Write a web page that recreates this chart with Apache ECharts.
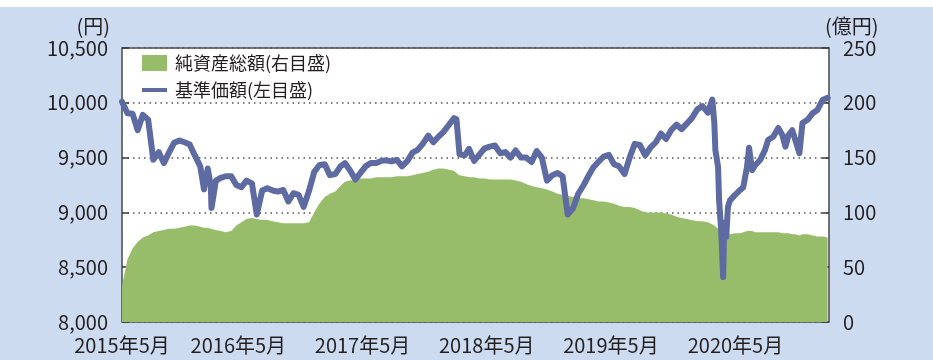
<!DOCTYPE html>
<html>
<head>
<meta charset="utf-8">
<script src="https://cdn.jsdelivr.net/npm/echarts@6/dist/echarts.min.js"></script>
<style>
  html, body { margin: 0; padding: 0; }
  #chart { width: 933px; height: 360px; background: linear-gradient(#ffffff 0 7px, #ccdbf0 7px); }
</style>
</head>
<body>
<div id="chart"></div>
<script>
// Observation dates (shared by both series)
const dates = [
  '2015-05-25','2015-06-10','2015-06-25','2015-07-10','2015-07-25','2015-08-10','2015-08-25','2015-09-10','2015-09-25','2015-10-10','2015-10-25','2015-11-10','2015-11-25','2015-12-10','2015-12-25',
  '2016-01-10','2016-01-21','2016-02-01','2016-02-10','2016-02-12','2016-02-25','2016-03-10','2016-03-25','2016-04-10','2016-04-25','2016-05-10','2016-05-25','2016-06-10','2016-06-24','2016-07-10','2016-07-25','2016-08-10','2016-08-25','2016-09-10','2016-09-25','2016-10-10','2016-10-25','2016-11-09','2016-11-25','2016-12-10','2016-12-25',
  '2017-01-10','2017-01-25','2017-02-10','2017-02-25','2017-03-10','2017-03-25','2017-04-10','2017-04-25','2017-05-10','2017-05-25','2017-06-10','2017-06-25','2017-07-10','2017-07-25','2017-08-10','2017-08-25','2017-09-10','2017-09-25','2017-10-10','2017-10-25','2017-11-10','2017-11-25','2017-12-10','2017-12-25',
  '2018-01-10','2018-01-25','2018-02-01','2018-02-10','2018-02-25','2018-03-10','2018-03-25','2018-04-10','2018-04-25','2018-05-10','2018-05-25','2018-06-10','2018-06-25','2018-07-10','2018-07-25','2018-08-10','2018-08-25','2018-09-10','2018-09-25','2018-10-10','2018-10-25','2018-11-10','2018-11-25','2018-12-10','2018-12-25',
  '2019-01-10','2019-01-25','2019-02-10','2019-02-25','2019-03-10','2019-03-25','2019-04-10','2019-04-25','2019-05-10','2019-05-25','2019-06-10','2019-06-25','2019-07-10','2019-07-25','2019-08-10','2019-08-25','2019-09-10','2019-09-25','2019-10-10','2019-10-25','2019-11-10','2019-11-25','2019-12-10','2019-12-25',
  '2020-01-10','2020-01-25','2020-02-10','2020-02-23','2020-02-29','2020-03-03','2020-03-11','2020-03-14','2020-03-20','2020-03-26','2020-03-29','2020-04-04','2020-04-09','2020-04-15','2020-04-30','2020-05-15','2020-05-24','2020-06-04','2020-06-10','2020-06-19','2020-06-28','2020-07-13','2020-07-27','2020-08-05','2020-08-20','2020-09-04','2020-09-16','2020-09-25','2020-10-04','2020-10-15','2020-10-24','2020-11-05','2020-11-14','2020-11-29','2020-12-14','2020-12-28',
  '2021-01-12','2021-01-27'
];

// 基準価額 (円)
const navValues = [
  10010,9905,9900,9750,9890,9845,9480,9550,9450,9545,9635,9655,9640,9620,9520,
  9420,9210,9400,9240,9040,9290,9315,9330,9330,9250,9230,9290,9265,8980,9200,9220,9200,9190,9205,9100,9175,9160,9050,9200,9370,9430,
  9440,9340,9350,9420,9450,9385,9300,9360,9420,9450,9450,9470,9475,9465,9480,9420,9470,9545,9570,9625,9700,9640,9690,9735,
  9800,9860,9850,9530,9520,9580,9470,9530,9585,9600,9610,9540,9550,9500,9565,9500,9500,9460,9560,9500,9290,9340,9360,9330,8980,
  9040,9170,9250,9340,9410,9460,9510,9525,9440,9420,9350,9500,9625,9615,9520,9590,9640,9720,9670,9750,9800,9760,9810,9860,
  9940,9970,9910,10030,9815,9570,9415,9110,8840,8410,8905,8775,9050,9110,9160,9205,9230,9415,9590,9385,9430,9480,9570,9660,9690,9770,9705,9600,9705,9750,9660,9540,9815,9845,9905,9935,
  10025,10045
];

// 純資産総額 (億円)
const assetValues = [
  33,57,67,73,77,79,82,83,84,85,85,86,87,88,88,
  87,86,86,85,85,84,83,82,83,88,91,94,95,94,93,93,92,91,90,90,90,90,90,91,100,108,
  114,117,119,124,128,129,130,131,131,131,132,132,132,132,133,133,133,134,135,136,137,139,140,140,
  139,138,136,134,133,132,132,131,131,130,130,130,130,130,129,128,126,124,123,122,121,119,117,116,115,
  114,113,113,112,111,110,110,109,108,106,105,105,104,102,100,100,100,100,99,98,96,95,94,93,
  92,92,91,89,88,87,85,83,81,80,80,80,80,80,81,81,82,83,83,83,82,82,82,82,82,82,81,81,81,80,80,79,80,80,79,78,
  78,77
];

// Axis range and tick/label dates
const xMinDate = '2015-05-25';
const xMaxDate = '2021-01-31';
const xLabelDates = ['2015-05-25','2016-05-01','2017-05-01','2018-05-01','2019-05-01','2020-05-01'];
const xTickDates = ['2016-05-01','2017-05-01','2018-05-01','2019-05-01','2020-05-01'];

const seriesNames = ['純資産総額(右目盛)', '基準価額(左目盛)'];

function toTime(s) {
  const p = s.split('-').map(Number);
  return new Date(p[0], p[1] - 1, p[2]).getTime();
}

const FONT = '"Noto Sans CJK JP", "Noto Sans", sans-serif';
const TEXT = '#231f20';
const NAV_COLOR = '#5e6ba2';
const ASSET_COLOR = '#97bc6a';

// thin horizontal bar centred in the legend icon box (tiny corner marks keep the box height)
const LINE_ICON = 'path://M0,0L0.01,0L0,0.01Z M0,6H25V10H0Z M0,16L0.01,16L0,15.99Z';

const chart = echarts.init(document.getElementById('chart'), null, { renderer: 'canvas' });

chart.setOption({
  backgroundColor: 'transparent',
  animation: false,
  textStyle: { fontFamily: FONT, color: TEXT },
  grid: {
    left: 122, right: 104, top: 48, bottom: 38,
    show: true, backgroundColor: '#ffffff', borderColor: '#4a4a4a', borderWidth: 1.5
  },
  legend: {
    orient: 'vertical',
    left: 137, top: 49,
    itemWidth: 25, itemHeight: 16, itemGap: 9,
    textStyle: { fontFamily: FONT, fontSize: 18, color: TEXT, padding: [0, 0, 0, 3] },
    data: [
      { name: seriesNames[0], icon: 'rect', itemStyle: { color: ASSET_COLOR } },
      { name: seriesNames[1], icon: LINE_ICON, itemStyle: { color: NAV_COLOR } }
    ]
  },
  xAxis: {
    // dates are plotted as timestamps on a linear scale
    type: 'value',
    min: toTime(xMinDate),
    max: toTime(xMaxDate),
    axisLine: { show: false },
    splitLine: { show: false },
    axisTick: {
      show: true, inside: true, length: 7,
      lineStyle: { color: '#3a3a3a', width: 1.5 },
      customValues: xTickDates.map(toTime)
    },
    axisLabel: {
      fontFamily: FONT, fontSize: 20, color: TEXT, margin: 13,
      customValues: xLabelDates.map(toTime),
      formatter: function (v) {
        const d = new Date(v);
        return d.getFullYear() + '年' + (d.getMonth() + 1) + '月';
      }
    }
  },
  yAxis: [
    {
      type: 'value',
      min: 8000, max: 10500, interval: 500,
      name: '(円)',
      nameLocation: 'end',
      nameGap: 12,
      nameTextStyle: { fontFamily: FONT, fontSize: 20, color: TEXT, align: 'right', padding: [0, 12, 0, 0] },
      axisLine: { show: false },
      axisTick: { show: true, inside: true, length: 7, lineStyle: { color: '#3a3a3a', width: 1.5 } },
      axisLabel: {
        fontFamily: FONT, fontSize: 20, color: TEXT, margin: 14,
        formatter: function (v) { return v.toLocaleString('en-US'); }
      },
      splitLine: { show: true, lineStyle: { color: '#555555', width: 1.5, type: [1.5, 4] } }
    },
    {
      type: 'value',
      min: 0, max: 250, interval: 50,
      name: '(億円)',
      nameLocation: 'end',
      nameGap: 12,
      nameTextStyle: { fontFamily: FONT, fontSize: 20, color: TEXT, align: 'left', padding: [0, 0, 0, -4] },
      axisLine: { show: false },
      axisTick: { show: true, inside: true, length: 7, lineStyle: { color: '#3a3a3a', width: 1.5 } },
      axisLabel: { fontFamily: FONT, fontSize: 20, color: TEXT, margin: 14 },
      splitLine: { show: false }
    }
  ],
  series: [
    {
      name: seriesNames[0],
      type: 'line',
      yAxisIndex: 1,
      symbol: 'none',
      color: ASSET_COLOR,
      lineStyle: { width: 0 },
      areaStyle: { color: ASSET_COLOR, opacity: 1 },
      data: dates.map((d, i) => [toTime(d), assetValues[i]]),
      z: 1
    },
    {
      name: seriesNames[1],
      type: 'line',
      yAxisIndex: 0,
      symbol: 'none',
      color: NAV_COLOR,
      lineStyle: { width: 6, color: NAV_COLOR, join: 'round', cap: 'round' },
      data: dates.map((d, i) => [toTime(d), navValues[i]]),
      z: 3
    }
  ]
});
</script>
</body>
</html>
